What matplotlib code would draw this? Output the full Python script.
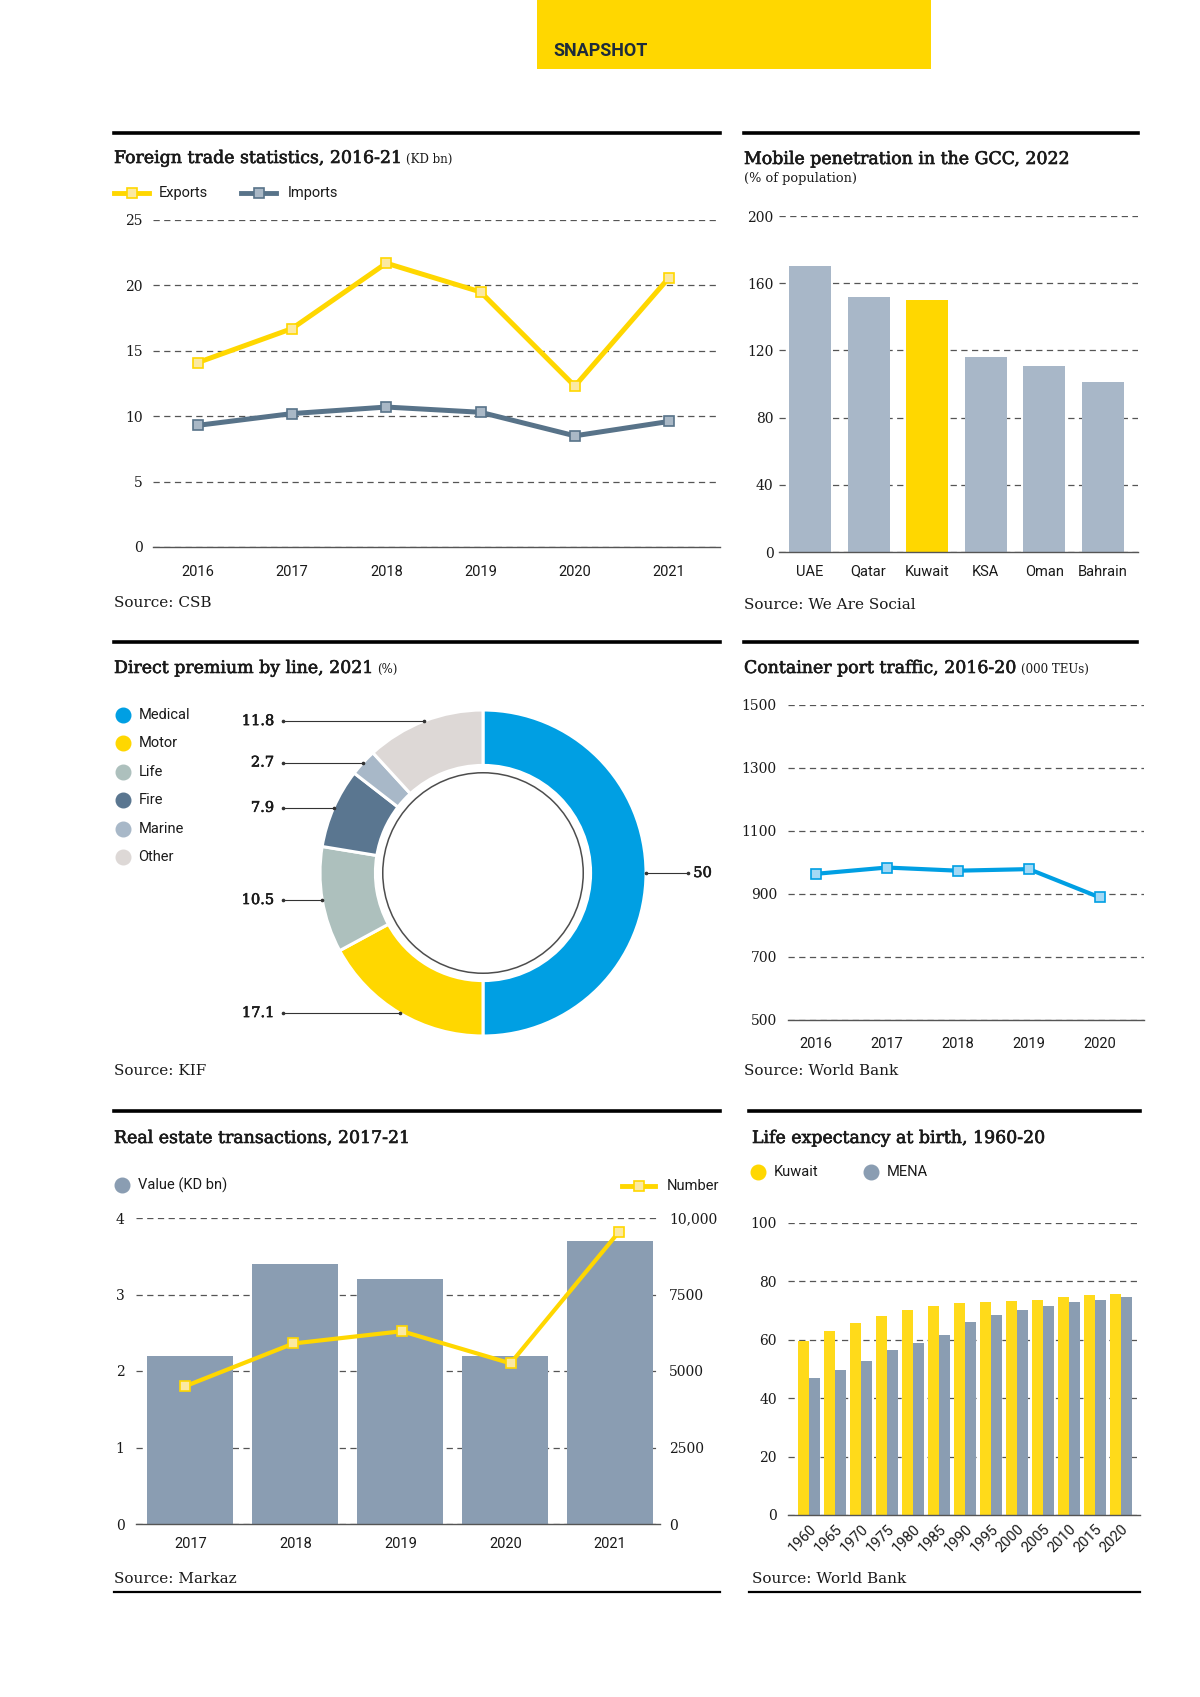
"""Kuwait snapshot page: six small economic charts on one sheet."""
import matplotlib
matplotlib.use("Agg")
import matplotlib.pyplot as plt
from matplotlib import font_manager
from matplotlib import patheffects
from matplotlib.lines import Line2D
from matplotlib.patches import Rectangle, Circle
import numpy as np

W, H = 1200, 1697

installed = {f.name for f in font_manager.fontManager.ttflist}
SERIF = "DejaVu Serif"
SANS = "Liberation Sans Narrow" if "Liberation Sans Narrow" in installed else "Roboto"

YELLOW = "#FFD700"
YELLOW_FACE = "#FBE9A2"
SLATE = "#587389"
SLATE_FACE = "#A9B8C6"
BAR_GREY = "#A8B7C8"
BLUE = "#009FE3"
BLUE_FACE = "#A3D9F5"
RE_GREY = "#8A9DB2"
GRID = "#555555"
INK = "#1a1a1a"
HEAVY = [patheffects.withStroke(linewidth=0.45, foreground=INK)]

# --- data -----------------------------------------------------------------
trade_years = ["2016", "2017", "2018", "2019", "2020", "2021"]
exports = [14.1, 16.7, 21.7, 19.5, 12.3, 20.6]
imports = [9.3, 10.2, 10.7, 10.3, 8.5, 9.6]

mobile_countries = ["UAE", "Qatar", "Kuwait", "KSA", "Oman", "Bahrain"]
mobile_pen = [170, 152, 150, 116, 111, 101]

premium_lines = ["Medical", "Motor", "Life", "Fire", "Marine", "Other"]
premium_share = [50, 17.1, 10.5, 7.9, 2.7, 11.8]
premium_colors = [BLUE, YELLOW, "#ADC0BD", "#5A7690", "#A8B8C8", "#DDD8D6"]

port_years = ["2016", "2017", "2018", "2019", "2020"]
port_teu = [964, 984, 974, 979, 889]

re_years = ["2017", "2018", "2019", "2020", "2021"]
re_value = [2.2, 3.4, 3.2, 2.2, 3.7]
re_number = [4500, 5900, 6300, 5250, 9550]

life_years = ["1960", "1965", "1970", "1975", "1980", "1985", "1990",
              "1995", "2000", "2005", "2010", "2015", "2020"]
life_kuwait = [59.6, 63.1, 65.9, 68.1, 70.1, 71.5, 72.5, 73.0, 73.2, 73.8, 74.5, 75.3, 75.7]
life_mena = [46.8, 49.7, 52.9, 56.4, 59.0, 61.8, 66.1, 68.6, 70.1, 71.5, 72.9, 73.8, 74.5]

plt.rcParams["font.family"] = SERIF
plt.rcParams["lines.scale_dashes"] = False

fig = plt.figure(figsize=(W / 100, H / 100), dpi=100)
fig.patch.set_facecolor("white")


def fx(x):
    return x / W


def fy(y):
    return 1 - y / H


def px_axes(left, top, right, bottom):
    return fig.add_axes([fx(left), fy(bottom), (right - left) / W, (bottom - top) / H])


def value_axes(ax, ylim, yticks, ypad, xpad):
    ax.set_ylim(*ylim)
    ax.set_yticks(yticks)
    for s in ("top", "right", "left"):
        ax.spines[s].set_visible(False)
    ax.spines["bottom"].set_color(GRID)
    ax.spines["bottom"].set_linewidth(1.0)
    ax.tick_params(length=0)
    ax.tick_params(axis="y", pad=ypad, labelsize=10, labelcolor=INK)
    ax.tick_params(axis="x", pad=xpad, labelsize=10.5, labelcolor=INK, labelfontfamily=SANS)
    ax.yaxis.grid(True, color=GRID, lw=0.9, linestyle=(0, (4.5, 3.2)))
    ax.set_axisbelow(True)
    ax.patch.set_alpha(0)


def rule(x0, x1, y, lw=2.6):
    fig.add_artist(Line2D([fx(x0), fx(x1)], [fy(y), fy(y)], color="black", lw=lw,
                          transform=fig.transFigure))


def title(x, y, main, small=None):
    t = fig.text(fx(x), fy(y), main, fontsize=12.5, va="baseline", color=INK,
                 path_effects=HEAVY)
    if small:
        fig.canvas.draw()
        bb = t.get_window_extent(fig.canvas.get_renderer())
        fig.text(bb.x1 / W + 4 / W, fy(y), small, fontsize=8.5, va="baseline", color=INK)


def source(x, y, txt):
    fig.text(fx(x), fy(y), txt, fontsize=11, va="baseline", color=INK)


def legend_line(x0, x1, y, color, face, label, gap=10):
    fig.add_artist(Line2D([fx(x0), fx(x1)], [fy(y), fy(y)], color=color, lw=3.5,
                          transform=fig.transFigure))
    fig.add_artist(Line2D([fx((x0 + x1) / 2)], [fy(y)], marker="s", ms=7, mfc=face,
                          mec=color, mew=1.2, transform=fig.transFigure))
    fig.text(fx(x1 + gap), fy(y), label, fontsize=10.5, family=SANS, va="center", color=INK)


def legend_dot(x, y, color, label, gap=16):
    fig.add_artist(Line2D([fx(x)], [fy(y)], marker="o", ms=10.5, mfc=color, mec=color,
                          transform=fig.transFigure))
    fig.text(fx(x + gap), fy(y), label, fontsize=10.5, family=SANS, va="center", color=INK)


# --- header ---------------------------------------------------------------
fig.add_artist(Rectangle((fx(537), fy(69)), (931 - 537) / W, 69 / H, color=YELLOW,
                         transform=fig.transFigure, lw=0))
fig.text(fx(553), fy(51), "SNAPSHOT", fontsize=13, fontweight="bold", family="Roboto",
         color="#1E2B3A", va="center")

# --- 1. foreign trade -----------------------------------------------------
rule(114, 720, 133)
title(114, 163, "Foreign trade statistics, 2016-21", "(KD bn)")
legend_line(114, 149, 193, YELLOW, YELLOW_FACE, "Exports")
legend_line(241, 276, 193, SLATE, SLATE_FACE, "Imports", gap=12)
ax1 = px_axes(152.5, 220, 720, 547)
x1 = np.arange(len(trade_years))
ax1.plot(x1, exports, color=YELLOW, lw=3.6, marker="s", ms=7.5, mfc=YELLOW_FACE,
         mec=YELLOW, mew=1.2, zorder=3)
ax1.plot(x1, imports, color=SLATE, lw=3.6, marker="s", ms=7.5, mfc=SLATE_FACE,
         mec=SLATE, mew=1.2, zorder=3)
value_axes(ax1, (0, 25), [0, 5, 10, 15, 20, 25], ypad=7, xpad=13)
ax1.set_xticks(x1, trade_years)
ax1.set_xlim(-0.48, 5.54)
source(114, 607, "Source: CSB")

# --- 2. mobile penetration --------------------------------------------------
rule(744, 1138, 133)
title(744, 164, "Mobile penetration in the GCC, 2022")
fig.text(fx(744), fy(182), "(% of population)", fontsize=9.3, va="baseline", color=INK)
ax2 = px_axes(779, 216, 1138, 552)
x2 = np.arange(len(mobile_countries))
bar_colors = [YELLOW if c == "Kuwait" else BAR_GREY for c in mobile_countries]
ax2.bar(x2, mobile_pen, width=0.72, color=bar_colors, zorder=2)
value_axes(ax2, (0, 200), [0, 40, 80, 120, 160, 200], ypad=4, xpad=9)
ax2.set_xticks(x2, mobile_countries)
ax2.set_xlim(-0.53, 5.6)
source(744, 609, "Source: We Are Social")

# --- 3. direct premium donut -----------------------------------------------
rule(114, 720, 642)
title(114, 673, "Direct premium by line, 2021", "(%)")
for i, (name, col) in enumerate(zip(premium_lines, premium_colors)):
    legend_dot(122.5, 715 + i * 28.4, col, name)

cx, cy, r = 483, 873, 163
ax3 = px_axes(cx - 1.5 * r, cy - 1.25 * r, cx + 1.5 * r, cy + 1.25 * r)
ax3.pie(premium_share, colors=premium_colors, startangle=90, counterclock=False,
        radius=1, wedgeprops=dict(width=0.34, edgecolor="white", linewidth=2.2))
ax3.add_patch(Circle((0, 0), 0.615, fill=False, edgecolor="#4d4d4d", lw=1.1))
ax3.set_aspect("auto")
ax3.set_xlim(-1.5, 1.5)
ax3.set_ylim(-1.25, 1.25)
ax3.axis("off")

# leader lines run level from each wedge's mid-angle out to the label column
cum = np.cumsum([0] + premium_share[:-1])
for start, share in zip(cum, premium_share):
    theta = np.deg2rad(360 * (start + share / 2) / 100)
    px, py = np.sin(theta), np.cos(theta)
    edge = np.sqrt(max(0.0, 1 - py ** 2))
    if px > 0.5:
        xs, tx, ha = [edge, 1.258], 1.29, "left"
    else:
        xs, tx, ha = [-1.227, -edge], -1.282, "right"
    ax3.plot(xs, [py, py], color="#333333", lw=0.8, marker="o", ms=1.6, clip_on=False)
    ax3.text(tx, py, f"{share:g}", ha=ha, va="center", fontsize=10.5, color=INK,
             path_effects=HEAVY)
source(114, 1075, "Source: KIF")

# --- 4. container port traffic ---------------------------------------------
rule(744, 1137, 642)
title(744, 673, "Container port traffic, 2016-20", "(000 TEUs)")
ax4 = px_axes(788, 705, 1144, 1020)
x4 = np.arange(len(port_years))
ax4.plot(x4, port_teu, color=BLUE, lw=3.0, marker="s", ms=7.5, mfc=BLUE_FACE, mec=BLUE,
         mew=1.2, zorder=3)
value_axes(ax4, (500, 1500), [500, 700, 900, 1100, 1300, 1500], ypad=8, xpad=12)
ax4.set_xticks(x4, port_years)
ax4.set_xlim(-0.39, 4.62)
source(744, 1075, "Source: World Bank")

# --- 5. real estate transactions -------------------------------------------
rule(114, 720, 1111)
title(114, 1143, "Real estate transactions, 2017-21")
legend_dot(122, 1185, RE_GREY, "Value (KD bn)")
legend_line(622, 655, 1186, YELLOW, YELLOW_FACE, "Number", gap=12)
ax5 = px_axes(135.6, 1218, 659.5, 1524)
x5 = np.arange(len(re_years))
ax5.bar(x5, re_value, width=0.82, color=RE_GREY, zorder=2)
value_axes(ax5, (0, 4), [0, 1, 2, 3, 4], ypad=8, xpad=9)
ax5.set_xticks(x5, re_years)
ax5.set_xlim(-0.523, 4.47)
# the number series sits on its own, slightly wider horizontal scale
ax5b = px_axes(135.6, 1218, 659.5, 1524)
ax5b.plot(x5, re_number, color=YELLOW, lw=3.0, marker="s", ms=7.5, mfc=YELLOW_FACE,
          mec=YELLOW, mew=1.2, zorder=3)
ax5b.set_xlim(-0.455, 4.373)
ax5b.set_ylim(0, 10000)
ax5b.patch.set_alpha(0)
ax5b.xaxis.set_visible(False)
ax5b.yaxis.tick_right()
ax5b.set_yticks([0, 2500, 5000, 7500, 10000], ["0", "2500", "5000", "7500", "10,000"])
ax5b.tick_params(length=0, pad=7, labelsize=10, labelcolor=INK)
for s in ax5b.spines.values():
    s.set_visible(False)
source(114, 1583, "Source: Markaz")
rule(114, 720, 1592, lw=1.6)

# --- 6. life expectancy ----------------------------------------------------
rule(749, 1140, 1111)
title(752, 1143, "Life expectancy at birth, 1960-20")
legend_dot(758, 1172, YELLOW, "Kuwait")
legend_dot(871, 1172, RE_GREY, "MENA", gap=16)
ax6 = px_axes(788, 1223, 1140, 1515)
x6 = np.arange(len(life_years))
ax6.bar(x6 - 0.21, life_kuwait, width=0.42, color="#FFDA1A", zorder=2)
ax6.bar(x6 + 0.21, life_mena, width=0.42, color=RE_GREY, zorder=2)
value_axes(ax6, (0, 100), [0, 20, 40, 60, 80, 100], ypad=8, xpad=5)
ax6.set_xticks(x6, life_years, rotation=45, ha="right", rotation_mode="anchor")
ax6.tick_params(axis="x", labelsize=10.5)
ax6.set_xlim(-0.81, 12.73)
source(752, 1583, "Source: World Bank")
rule(749, 1140, 1592, lw=1.6)

fig.savefig("out.png", dpi=100)
